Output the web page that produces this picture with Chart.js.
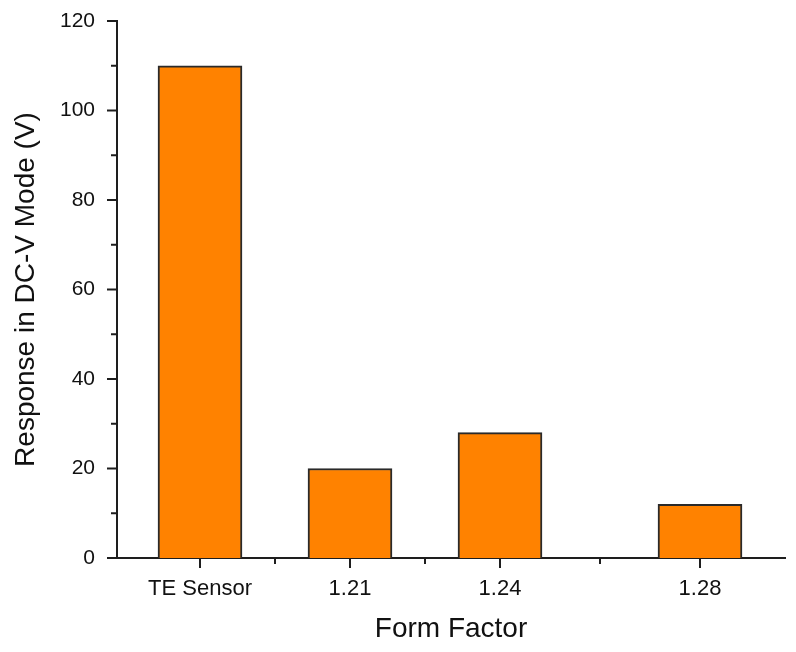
<!DOCTYPE html>
<html>
<head>
<meta charset="utf-8">
<script src="https://cdn.jsdelivr.net/npm/chart.js@4.4.1/dist/chart.umd.min.js"></script>
<style>
  html, body { margin: 0; padding: 0; background: #fff; }
  #wrap { width: 796px; height: 652px; }
</style>
</head>
<body>
<div id="wrap"><canvas id="barChart"></canvas></div>
<script>
// data
const categories = ['TE Sensor', '1.21', '1.24', '1.28'];
const formFactor = [1.18, 1.21, 1.24, 1.28];   // TE Sensor placed left of 1.21
const response = [110, 20, 28, 12];
const xMinorTicks = [1.195, 1.225, 1.26];
const yMajorTicks = [0, 20, 40, 60, 80, 100, 120];
const yMinorTicks = [10, 30, 50, 70, 90, 110];

const axisColor = '#1e1e1e';
const textColor = '#111';
const fontFamily = "'Liberation Sans', Arial, sans-serif";

// tick marks (major + minor), drawn outward like the original plot
const tickMarks = {
    id: 'tickMarks',
    afterDraw(chart) {
        const ctx = chart.ctx;
        const x = chart.scales.x, y = chart.scales.y;
        const area = chart.chartArea;
        ctx.save();
        ctx.strokeStyle = axisColor;
        ctx.lineWidth = 2;
        const line = (x1, y1, x2, y2) => {
            ctx.beginPath(); ctx.moveTo(x1, y1); ctx.lineTo(x2, y2); ctx.stroke();
        };
        formFactor.forEach(v => { const px = x.getPixelForValue(v); line(px, area.bottom, px, area.bottom + 10); });
        xMinorTicks.forEach(v => { const px = x.getPixelForValue(v); line(px, area.bottom, px, area.bottom + 6); });
        yMajorTicks.forEach(v => { const py = y.getPixelForValue(v); line(area.left, py, area.left - 10, py); });
        yMinorTicks.forEach(v => { const py = y.getPixelForValue(v); line(area.left, py, area.left - 6, py); });
        ctx.restore();
    }
};

const ctx = document.getElementById('barChart').getContext('2d');
const barChart = new Chart(ctx, {
    type: 'bar',
    data: {
        datasets: [{
            data: formFactor.map((v, i) => ({ x: v, y: response[i] })),
            backgroundColor: '#FF8200',
            borderColor: '#2a2a2a',
            borderWidth: 2,
            borderSkipped: 'bottom',
            barThickness: 84
        }]
    },
    options: {
        responsive: true,
        maintainAspectRatio: false,
        animation: false,
        layout: { padding: { top: 21, right: 11, left: 0, bottom: 0 } },
        plugins: {
            legend: { display: false },
            tooltip: { enabled: false }
        },
        scales: {
            x: {
                type: 'linear',
                offset: false,
                min: 1.1634,
                max: 1.297,
                grid: { display: false },
                border: { display: true, color: axisColor, width: 2 },
                afterBuildTicks: (scale) => { scale.ticks = formFactor.map(v => ({ value: v })); },
                afterFit: (scale) => { scale.height = 94; },
                ticks: {
                    padding: 10,
                    color: textColor,
                    font: { family: fontFamily, size: 22 },
                    autoSkip: false,
                    maxRotation: 0,
                    callback: (value) => {
                        const i = formFactor.findIndex(v => Math.abs(v - value) < 1e-6);
                        return i >= 0 ? categories[i] : '';
                    }
                },
                title: {
                    display: true,
                    text: 'Form Factor',
                    color: textColor,
                    font: { family: fontFamily, size: 28 },
                    padding: { top: 0, bottom: 6 }
                }
            },
            y: {
                min: 0,
                max: 120,
                grid: { display: false },
                border: { display: true, color: axisColor, width: 2 },
                afterBuildTicks: (scale) => { scale.ticks = yMajorTicks.map(v => ({ value: v })); },
                afterFit: (scale) => {
                    scale.width = 117;
                    scale.paddingTop = 0;
                    scale.paddingBottom = 0;
                },
                ticks: {
                    padding: 14,
                    color: textColor,
                    font: { family: fontFamily, size: 21 }
                },
                title: {
                    display: true,
                    text: 'Response in DC-V Mode (V)',
                    color: textColor,
                    font: { family: fontFamily, size: 28 },
                    padding: { top: 9, bottom: 0 }
                }
            }
        }
    },
    plugins: [tickMarks]
});
</script>
</body>
</html>
